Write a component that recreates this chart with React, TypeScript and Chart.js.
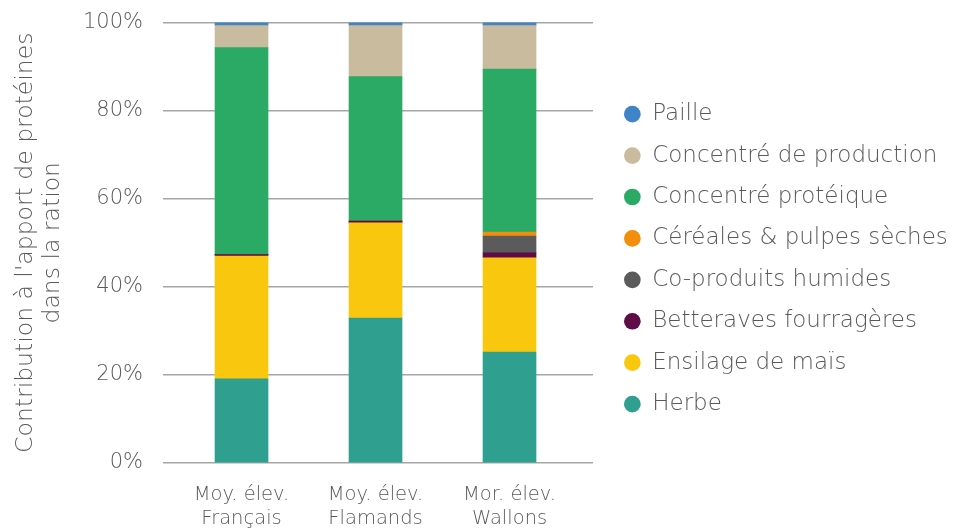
import { useEffect, useRef } from 'react';
import { Chart, registerables } from 'chart.js';

Chart.register(...registerables);

const categories: string[][] = [
  ['Moy. élev.', 'Français'],
  ['Moy. élev.', 'Flamands'],
  ['Mor. élev.', 'Wallons'],
];

const herbe = [19.1, 32.9, 25.2];
const ensilageMais = [27.9, 21.6, 21.4];
const betteraves = [0.3, 0.4, 1.1];
const coProduits = [0, 0, 3.8];
const cereales = [0, 0, 0.9];
const concentreProteique = [47.0, 32.8, 37.0];
const concentreProduction = [5.0, 11.6, 9.9];
const paille = [0.7, 0.7, 0.7];

const yTickValues = [0, 20, 40, 60, 80, 100];

const FAMILY = "'DejaVu Sans', sans-serif";
const TEXT = '#595959';

export default function App() {
  const ref = useRef<HTMLCanvasElement>(null);

  useEffect(() => {
    const series = [
      { label: 'Herbe', data: herbe, color: '#2FA08F' },
      { label: 'Ensilage de maïs', data: ensilageMais, color: '#F9C80E' },
      { label: 'Betteraves fourragères', data: betteraves, color: '#5E0B47' },
      { label: 'Co-produits humides', data: coProduits, color: '#5B5B5B' },
      { label: 'Céréales & pulpes sèches', data: cereales, color: '#F28E0C' },
      { label: 'Concentré protéique', data: concentreProteique, color: '#2BAA66' },
      { label: 'Concentré de production', data: concentreProduction, color: '#C9BB9E' },
      { label: 'Paille', data: paille, color: '#3E84C6' },
    ];

    const chart = new Chart(ref.current as HTMLCanvasElement, {
      type: 'bar',
      data: {
        datasets: series.map((s) => ({
          label: s.label,
          data: s.data.map((v, i) => ({ x: i, y: v })),
          backgroundColor: s.color,
          borderColor: s.color,
          borderWidth: 0,
          barThickness: 53,
        })),
      },
      options: {
        responsive: false,
        animation: false,
        devicePixelRatio: 1,
        layout: { padding: { left: 0, right: 0, top: 22.5, bottom: 0 } },
        plugins: {
          tooltip: { enabled: false },
          legend: {
            position: 'right',
            align: 'start',
            reverse: true,
            maxWidth: 348.43,
            title: {
              display: true,
              text: '',
              font: { size: 10, lineHeight: 1.2 },
              padding: { top: 49.7, bottom: 0 },
            },
            labels: {
              usePointStyle: true,
              pointStyle: 'circle',
              boxWidth: 16.7,
              boxHeight: 11.8,
              padding: 18.43,
              color: TEXT,
              font: { family: FAMILY, size: 23, weight: 300 },
            },
          },
        },
        scales: {
          x: {
            type: 'linear',
            stacked: true,
            offset: false,
            min: -0.586,
            max: 2.623,
            grid: { display: false, drawTicks: false, offset: false },
            border: { display: false },
            afterBuildTicks: (s: any) => {
              s.ticks = categories.map((_, i) => ({ value: i }));
            },
            ticks: {
              autoSkip: false,
              maxRotation: 0,
              padding: 20,
              color: TEXT,
              font: { family: FAMILY, size: 19.5, weight: 300, lineHeight: 1.23 },
              callback: (v: any) => categories[Number(v)] ?? '',
            },
            afterFit: (s: any) => {
              s.height = 65;
              s.paddingLeft = 0;
              s.paddingRight = 0;
            },
          },
          y: {
            stacked: true,
            min: 0,
            max: 100,
            afterBuildTicks: (s: any) => {
              s.ticks = yTickValues.map((v) => ({ value: v }));
            },
            ticks: {
              padding: 20,
              color: TEXT,
              font: { family: FAMILY, size: 21, weight: 300 },
              callback: (v: any) => v + '%',
            },
            grid: { color: '#A6A6A6', lineWidth: 1.5, drawTicks: false },
            border: { display: false },
            title: {
              display: true,
              text: ["Contribution à l'apport de protéines", 'dans la ration'],
              color: TEXT,
              font: { family: FAMILY, size: 23.5, weight: 300, lineHeight: 1.15 },
              padding: { top: 12.5, bottom: 0 },
            },
            afterFit: (s: any) => {
              s.width = 163;
              s.paddingTop = 0;
              s.paddingBottom = 0;
            },
          },
          y2: {
            type: 'linear',
            position: 'right',
            display: true,
            grid: { display: false, drawTicks: false },
            border: { display: false },
            ticks: { display: false },
            afterFit: (s: any) => {
              s.width = 12.57;
              s.paddingTop = 0;
              s.paddingBottom = 0;
            },
          },
        },
      },
    } as any);

    return () => chart.destroy();
  }, []);

  return (
    <div style={{ position: 'fixed', left: 0, top: 0, width: 954, height: 528 }}>
      <canvas ref={ref} width={954} height={528} />
    </div>
  );
}
